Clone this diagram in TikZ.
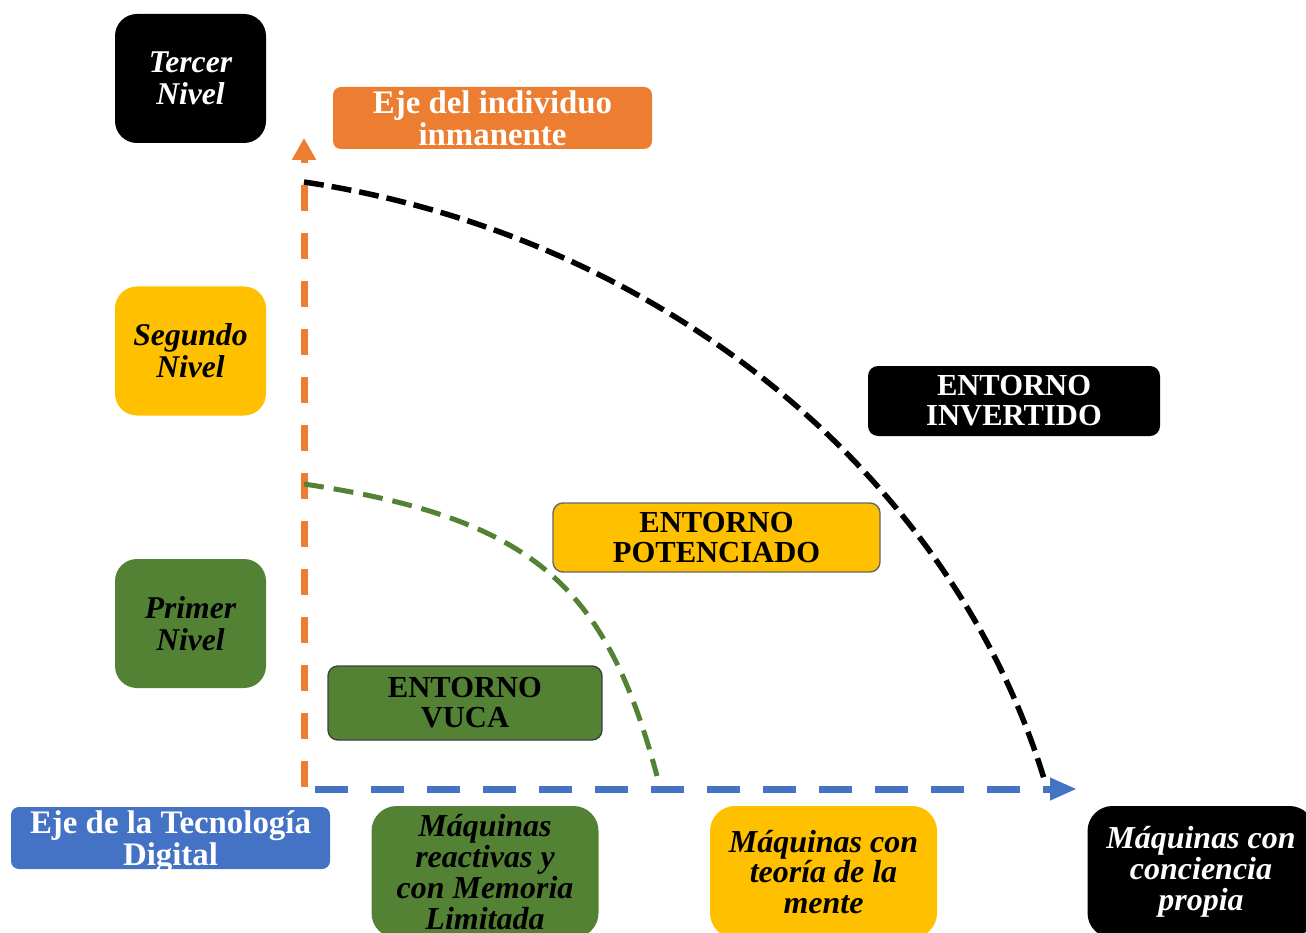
\documentclass[tikz,border=0pt]{standalone}
\usepackage{fontspec}
\setmainfont{Liberation Serif}[
  BoldFont={Liberation Serif Bold},
  ItalicFont={Liberation Serif Italic},
  BoldItalicFont={Liberation Serif Bold Italic}]
\usetikzlibrary{arrows.meta,
  positioning
}
\definecolor{verdeN}{HTML}{548235}
\definecolor{amarilloN}{HTML}{FFC000}
\definecolor{naranjaN}{HTML}{ED7D31}
\definecolor{azulN}{HTML}{4472C4}

\tikzstyle{nivelbox} = [rounded corners=0.22cm, minimum width=1.51cm,
  minimum height=1.29cm, inner sep=0, align=center,
  font=\fontsize{9}{9.1}\selectfont\bfseries\itshape]
\tikzstyle{maqbox} = [rounded corners=0.25cm, minimum width=2.27cm,
  minimum height=1.32cm, inner sep=0, align=center,
  font=\fontsize{9.1}{8.8}\selectfont\bfseries\itshape]
\tikzstyle{ejebox} = [rounded corners=0.08cm, minimum width=3.19cm,
  minimum height=0.62cm, inner sep=0, align=center, text=white,
  text depth=0pt, font=\fontsize{9.35}{9.1}\selectfont\bfseries]
\tikzstyle{entornobox} = [rounded corners=0.1cm, inner sep=0, align=center,
  font=\fontsize{8.7}{8.5}\selectfont\bfseries]
\tikzstyle{ejeline} = [line width=0.07cm, dash pattern=on 0.26cm off 0.22cm]

\begin{document}
\begin{tikzpicture}
  \useasboundingbox (0, 0) rectangle (13.06, 9.32);
  \clip (0, 0) rectangle (13.06, 9.32);

  % niveles
  \node[nivelbox, fill=black, text=white] (tercer) at (1.905, 8.535) {Tercer\\Nivel};
  \node[nivelbox, fill=amarilloN] (segundo) at (1.905, 5.81) {Segundo\\Nivel};
  \node[nivelbox, fill=verdeN] (primer) at (1.905, 3.085) {Primer\\Nivel};

  % ejes
  \node[ejebox, fill=naranjaN] (ejeind) at (4.925, 8.14) {Eje del individuo\\inmanente};
  \node[ejebox, fill=azulN] (ejetec) at (1.705, 0.94) {Eje de la Tecnología\\Digital};

  \coordinate (origen) at (3.04, 1.45);
  \coordinate (ytip) at (3.04, 7.94);
  \coordinate (xorig) at (3.15, 1.43);
  \coordinate (xtip) at (10.77, 1.43);
  \draw[ejeline, naranjaN, -{Triangle[length=0.22cm, width=0.23cm]}] (origen) -- (ytip);
  \draw[ejeline, azulN, dash pattern=on 0.33cm off 0.23cm,
    -{Triangle[length=0.27cm, width=0.21cm]}] (xorig) -- (xtip);

  % maquinas
  \node[maqbox, fill=verdeN] (maqreact) at (4.85, 0.60) {Máquinas\\reactivas y\\con Memoria\\Limitada};
  \node[maqbox, fill=amarilloN] (maqteoria) at (8.235, 0.60) {Máquinas con\\teoría de la\\mente};
  \node[maqbox, fill=black, text=white] (maqconc) at (12.01, 0.60) {Máquinas con\\conciencia\\propia};

  % entornos
  \node[entornobox, fill=verdeN, draw=black!75, minimum width=2.74cm,
    minimum height=0.74cm] (vuca) at (4.65, 2.29) {ENTORNO\\VUCA};
  \node[entornobox, fill=amarilloN, draw=black!60, minimum width=3.27cm,
    minimum height=0.69cm] (potenciado) at (7.165, 3.945) {ENTORNO\\POTENCIADO};
  \node[entornobox, fill=black, text=white, minimum width=2.92cm,
    minimum height=0.70cm] (invertido) at (10.14, 5.31) {ENTORNO\\INVERTIDO};

  % curvas
  \coordinate (arcverde) at (3.04, 4.48);
  \coordinate (finverde) at (6.57, 1.56);
  \coordinate (arcnegro) at (3.04, 7.50);
  \coordinate (finnegro) at (10.45, 1.50);
  \draw[verdeN, line width=0.05cm, dash pattern=on 0.2cm off 0.1cm]
  (arcverde) .. controls (5.34, 4.135) and (6.06, 3.46) .. (finverde);
  \draw[black, line width=0.055cm, dash pattern=on 0.2cm off 0.08cm]
  (arcnegro) .. controls (6.69, 6.95) and (9.55, 4.50) .. (finnegro);
\end{tikzpicture}
\end{document}
